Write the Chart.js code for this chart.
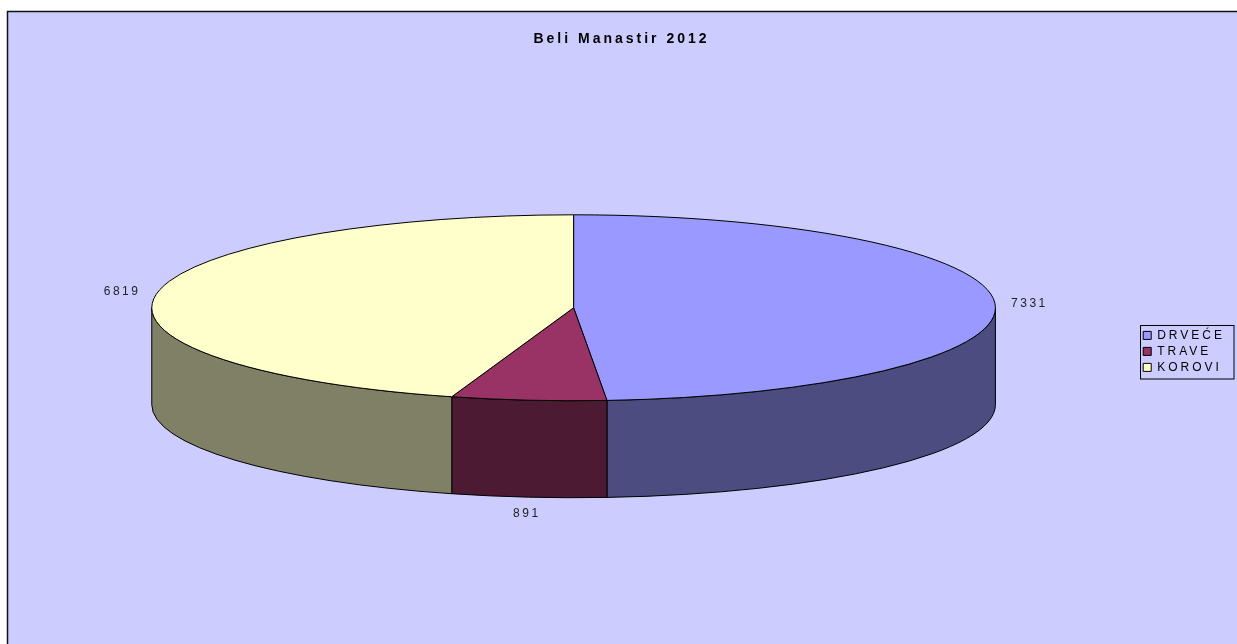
<!DOCTYPE html>
<html><head><meta charset="utf-8">
<script src="https://cdn.jsdelivr.net/npm/chart.js@4.4.0/dist/chart.umd.min.js"></script>
<style>html,body{margin:0;padding:0;background:#fff;overflow:hidden}#wrap{width:1237px;height:644px;position:relative}canvas{display:block}</style>
</head><body><div id="wrap"><canvas id="c" width="1237" height="644"></canvas></div>
<script>
const chartTitle = 'Beli Manastir 2012';
const categories = ['DRVEĆE', 'TRAVE', 'KOROVI'];
const values = [7331, 891, 6819];
const topColors = ['#9999FF', '#993366', '#FFFFCC'];
const sideColors = ['#4C4C80', '#4D1A33', '#808066'];

const FONT = '"Liberation Sans", Arial, sans-serif';
const TILT = 93 / 422, DEPTH = 97 / 422, STRETCH = 1.506, LIFT = 0.45;

function spaced(obj, method, spacing) {
  const orig = obj[method];
  obj[method] = function (...args) {
    const ctx = this.ctx;
    const prev = ctx.letterSpacing;
    ctx.letterSpacing = spacing;
    try { return orig.apply(this, args); } finally { ctx.letterSpacing = prev; }
  };
}

const pie3d = {
  id: 'pie3d',
  afterInit(chart) {
    spaced(chart.legend, 'fit', '3px');
    spaced(chart.legend, 'draw', '3px');
    spaced(chart.titleBlock, 'draw', '3px');
  },
  beforeDraw(chart) {
    const ctx = chart.ctx;
    ctx.save();
    ctx.fillStyle = '#FFFFFF';
    ctx.fillRect(0, 0, chart.width, chart.height);
    ctx.fillStyle = '#CCCCFF';
    ctx.fillRect(7, 11, chart.width, chart.height);
    ctx.strokeStyle = '#111';
    ctx.lineWidth = 1.5;
    ctx.beginPath();
    ctx.moveTo(7.5, chart.height + 5);
    ctx.lineTo(7.5, 11.5);
    ctx.lineTo(chart.width + 5, 11.5);
    ctx.stroke();
    ctx.restore();
  },
  beforeDatasetsDraw(chart) {
    const ctx = chart.ctx;
    const arcs = chart.getDatasetMeta(0).data;
    const a0 = arcs[0];
    const rx = a0.outerRadius * STRETCH, ry = rx * TILT, d = rx * DEPTH;
    const cx = a0.x, cy = a0.y - d * LIFT;
    ctx.save();
    ctx.lineWidth = 1;
    ctx.strokeStyle = '#000';
    ctx.lineJoin = 'round';
    // front side walls
    arcs.forEach((arc, i) => {
      const ranges = [[0, Math.PI], [2 * Math.PI, 3 * Math.PI], [-2 * Math.PI, -Math.PI]];
      ranges.forEach(([lo, hi]) => {
        const s = Math.max(arc.startAngle, lo), e = Math.min(arc.endAngle, hi);
        if (e > s) {
          ctx.beginPath();
          ctx.ellipse(cx, cy, rx, ry, 0, s, e, false);
          ctx.lineTo(cx + rx * Math.cos(e), cy + ry * Math.sin(e) + d);
          ctx.ellipse(cx, cy + d, rx, ry, 0, e, s, true);
          ctx.closePath();
          ctx.fillStyle = sideColors[i];
          ctx.fill();
          ctx.stroke();
        }
      });
    });
    // top faces
    arcs.forEach((arc) => {
      ctx.beginPath();
      ctx.moveTo(cx, cy);
      ctx.ellipse(cx, cy, rx, ry, 0, arc.startAngle, arc.endAngle, false);
      ctx.closePath();
      ctx.fillStyle = arc.options.backgroundColor;
      ctx.fill();
      ctx.stroke();
    });
    // value labels
    ctx.font = '12px ' + FONT;
    ctx.letterSpacing = '2.5px';
    ctx.fillStyle = '#222';
    ctx.textBaseline = 'middle';
    arcs.forEach((arc, i) => {
      const m = (arc.startAngle + arc.endAngle) / 2;
      const c = Math.cos(m), s = Math.sin(m);
      const lx = cx + (rx + 16) * c;
      const ly = cy + (ry + 17) * s + (s > 0.3 ? d : 0);
      ctx.textAlign = c > 0.5 ? 'left' : (c < -0.5 ? 'right' : 'center');
      ctx.fillText(String(values[i]), lx, ly);
    });
    ctx.restore();
    return false;
  },
  afterDraw(chart) {
    const lg = chart.legend;
    if (!lg || !lg.legendHitBoxes || !lg.legendHitBoxes.length) return;
    const hb = lg.legendHitBoxes;
    let x0 = Infinity, y0 = Infinity, y1 = -Infinity;
    hb.forEach(b => { x0 = Math.min(x0, b.left); y0 = Math.min(y0, b.top); y1 = Math.max(y1, b.top + b.height); });
    const ctx = chart.ctx;
    ctx.save();
    ctx.strokeStyle = '#000';
    ctx.lineWidth = 1;
    const L = Math.round(x0 - 3) + 0.5, T = Math.round(y0 - 4) + 0.5;
    ctx.strokeRect(L, T, Math.round(lg.right - 1) - L, Math.round(y1 + 6) - T);
    ctx.restore();
  }
};

new Chart(document.getElementById('c'), {
  type: 'pie',
  data: {
    labels: categories,
    datasets: [{
      data: values,
      backgroundColor: topColors,
      borderColor: '#000',
      borderWidth: 1
    }]
  },
  options: {
    responsive: false,
    animation: false,
    devicePixelRatio: 1,
    rotation: 0,
    layout: { padding: { left: 8, top: 12, right: 2, bottom: 12 } },
    plugins: {
      title: {
        display: true,
        text: chartTitle,
        color: '#000',
        font: { family: FONT, size: 14, weight: 'bold' },
        padding: { top: 19, bottom: 23 }
      },
      legend: {
        position: 'right',
        fullSize: false,
        labels: {
          color: '#000',
          font: { family: FONT, size: 12 },
          boxWidth: 8,
          boxHeight: 8,
          padding: 4
        }
      },
      tooltip: { enabled: false }
    }
  },
  plugins: [pie3d]
});
</script>
</body></html>
